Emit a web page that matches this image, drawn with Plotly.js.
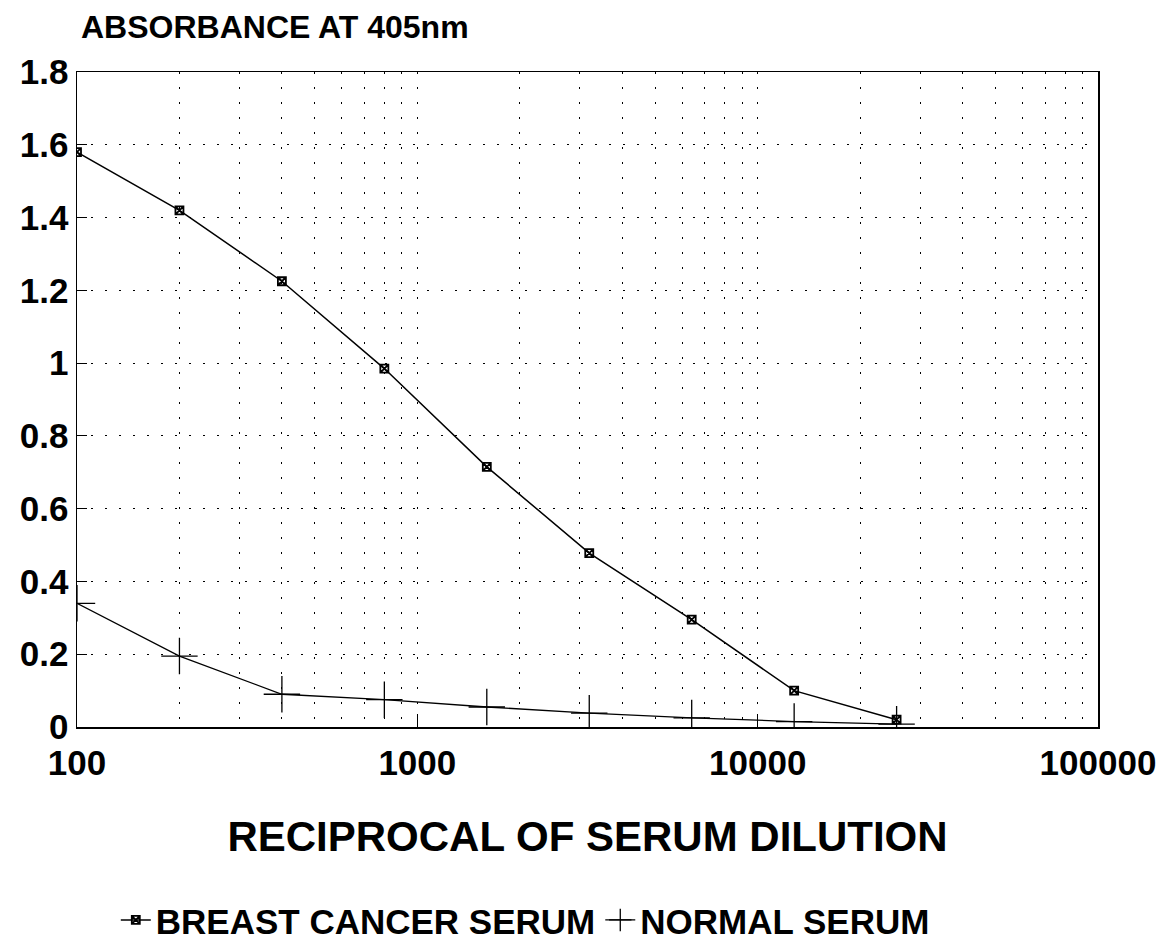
<!DOCTYPE html>
<html>
<head>
<meta charset="utf-8">
<script src="https://cdn.plot.ly/plotly-3.0.1.min.js"></script>
<style>html,body{margin:0;padding:0;background:#fff;}#chart{width:1164px;height:943px;}</style>
</head>
<body>
<div id="chart"></div>
<script>
// Data
const dilution = [100, 200, 400, 800, 1600, 3200, 6400, 12800, 25600];
const breastCancerSerum = [1.58, 1.42, 1.225, 0.985, 0.715, 0.478, 0.295, 0.10, 0.02];
const normalSerum = [0.34, 0.195, 0.09, 0.075, 0.055, 0.038, 0.025, 0.015, 0.008];
const seriesNames = ["BREAST CANCER SERUM", "NORMAL SERUM"];
const xTickVals = [100, 1000, 10000, 100000];
const xTickText = ["100", "1000", "10000", "100000"];
const yTickVals = [0, 0.2, 0.4, 0.6, 0.8, 1, 1.2, 1.4, 1.6, 1.8];
const yTickText = ["0", "0.2", "0.4", "0.6", "0.8", "1", "1.2", "1.4", "1.6", "1.8"];
const xTitle = "RECIPROCAL OF SERUM DILUTION";
const yTitle = "ABSORBANCE AT 405nm";

const FONT = "Liberation Sans, Arial, sans-serif";
const dotGrid = "2px,13px";

const traces = [
  {
    x: dilution, y: breastCancerSerum, name: seriesNames[0],
    type: "scatter", mode: "lines+markers",
    line: {color: "#000", width: 1.5},
    marker: {symbol: "square-x-open", size: 8, color: "#000", line: {color: "#000", width: 1.8}}
  },
  {
    x: dilution, y: normalSerum, name: seriesNames[1],
    type: "scatter", mode: "lines+markers",
    line: {color: "#000", width: 1.3},
    marker: {symbol: "cross-thin-open", size: 26, color: "#000", line: {color: "#000", width: 1.3}}
  }
];

const layout = {
  width: 1164, height: 943,
  paper_bgcolor: "#fff", plot_bgcolor: "#fff",
  margin: {l: 77, r: 66, t: 72, b: 216, autoexpand: false},
  font: {family: FONT, color: "#000", weight: "bold"},
  showlegend: true,
  legend: {
    orientation: "h", x: 0.038, xanchor: "left", y: -0.295, yanchor: "middle",
    font: {family: FONT, size: 35, weight: "bold", color: "#000"},
    itemwidth: 30
  },
  xaxis: {
    type: "log", range: [2, 5],
    tickvals: xTickVals, ticktext: xTickText,
    tickfont: {family: FONT, size: 35, weight: "bold"},
    ticklabelstandoff: 4,
    ticks: "inside", ticklen: 13, tickcolor: "#000", tickwidth: 1,
    showline: true, linecolor: "#000", linewidth: 1.5, mirror: true,
    showgrid: true, gridcolor: "#000", gridwidth: 1, griddash: dotGrid,
    minor: {dtick: "D1", showgrid: true, gridcolor: "#000", gridwidth: 1, griddash: dotGrid, ticks: ""},
    zeroline: false,
    title: {text: xTitle, font: {family: FONT, size: 42, weight: "bold"}, standoff: 41},
    automargin: false
  },
  yaxis: {
    range: [0, 1.8],
    tickvals: yTickVals, ticktext: yTickText,
    tickfont: {family: FONT, size: 35, weight: "bold"},
    ticks: "inside", ticklen: 10, tickcolor: "#000", tickwidth: 1,
    showline: true, linecolor: "#000", linewidth: 1.5, mirror: true,
    showgrid: true, gridcolor: "#000", gridwidth: 1, griddash: "2px,12px",
    zeroline: false,
    automargin: false
  },
  annotations: [
    {
      text: yTitle, xref: "paper", yref: "paper",
      x: 0.002, xanchor: "left", y: 1.069, yanchor: "middle",
      showarrow: false, font: {family: FONT, size: 32, weight: "bold", color: "#000"}
    }
  ]
};

Plotly.newPlot("chart", traces, layout, {displayModeBar: false, staticPlot: true});
</script>
</body>
</html>
